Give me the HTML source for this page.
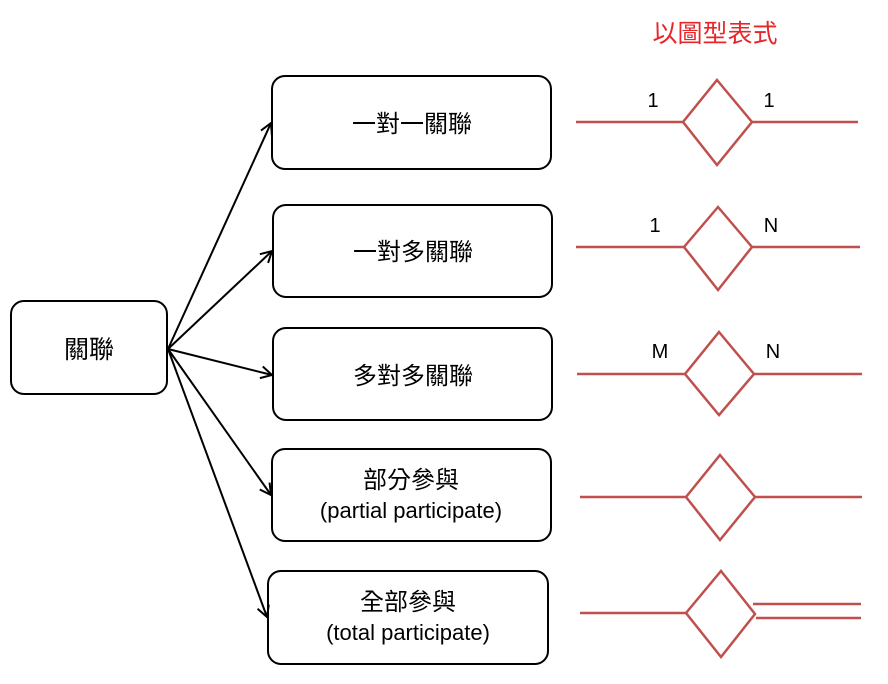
<!DOCTYPE html>
<html><head><meta charset="utf-8"><style>
body{margin:0;background:#fff;width:888px;height:684px;overflow:hidden}
svg{display:block}
text{font-family:"Liberation Sans","Noto Sans CJK TC",sans-serif}
</style></head><body>
<svg width="888" height="684" viewBox="0 0 888 684">
<defs><marker id="a" markerWidth="14" markerHeight="14" refX="12" refY="7" orient="auto" markerUnits="userSpaceOnUse"><path d="M1,1 L12,7 L1,13" fill="none" stroke="#000" stroke-width="2"/></marker></defs>
<g fill="#fff" stroke="#000" stroke-width="2">
<rect x="11" y="301" width="156" height="93" rx="13"/>
<rect x="272" y="76" width="279" height="93" rx="13"/>
<rect x="273" y="205" width="279" height="92" rx="13"/>
<rect x="273" y="328" width="279" height="92" rx="13"/>
<rect x="272" y="449" width="279" height="92" rx="13"/>
<rect x="268" y="571" width="280" height="93" rx="13"/>
</g>
<g stroke="#000" stroke-width="2" marker-end="url(#a)">
<line x1="168" y1="349" x2="271" y2="123"/>
<line x1="168" y1="349" x2="272" y2="251"/>
<line x1="168" y1="349" x2="272" y2="375"/>
<line x1="168" y1="349" x2="271" y2="495"/>
<line x1="168" y1="349" x2="267" y2="617"/>
</g>
<g font-size="24" text-anchor="middle" fill="#000">
<text x="89" y="358" font-size="25">關聯</text>
<text x="412" y="132">一對一關聯</text>
<text x="413" y="260">一對多關聯</text>
<text x="413" y="384">多對多關聯</text>
<text x="411" y="488">部分參與</text>
<text x="411" y="518" font-size="22">(partial participate)</text>
<text x="408" y="610">全部參與</text>
<text x="408" y="640" font-size="22">(total participate)</text>
</g>
<text x="715" y="42" font-size="25" fill="#e8262a" text-anchor="middle">以圖型表式</text>
<g stroke="#c0504d" stroke-width="2.5" fill="none">
<line x1="576" y1="122" x2="683" y2="122"/><line x1="752" y1="122" x2="858" y2="122"/>
<path d="M717,80 L752,122 L717,165 L683,122Z"/>
<line x1="576" y1="247" x2="684" y2="247"/><line x1="752" y1="247" x2="860" y2="247"/>
<path d="M718,207 L752,247 L718,290 L684,247Z"/>
<line x1="577" y1="374" x2="685" y2="374"/><line x1="754" y1="374" x2="862" y2="374"/>
<path d="M719,332 L754,374 L719,415 L685,374Z"/>
<line x1="580" y1="497" x2="686" y2="497"/><line x1="755" y1="497" x2="862" y2="497"/>
<path d="M720,455 L755,497 L720,540 L686,497Z"/>
<line x1="580" y1="613" x2="686" y2="613"/>
<line x1="753" y1="604" x2="861" y2="604"/><line x1="756" y1="618" x2="861" y2="618"/>
<path d="M721,571 L755,614 L721,657 L686,613Z"/>
</g>
<g font-size="20" fill="#000" text-anchor="middle">
<text x="653" y="107">1</text><text x="769" y="107">1</text>
<text x="655" y="232">1</text><text x="771" y="232">N</text>
<text x="660" y="358">M</text><text x="773" y="358">N</text>
</g>
</svg>
</body></html>
